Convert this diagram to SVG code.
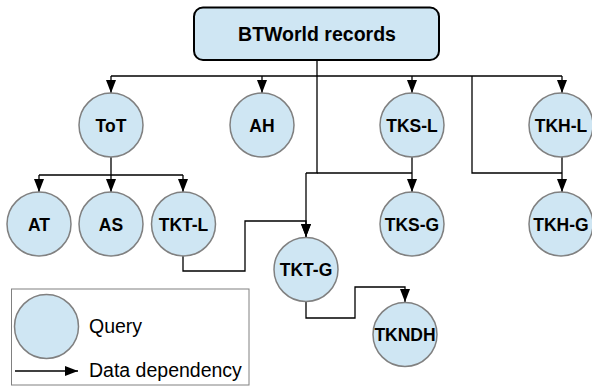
<svg xmlns="http://www.w3.org/2000/svg" width="592" height="386" viewBox="0 0 592 386">
<style>
.n circle{fill:#cfe6f3;stroke:#808080;stroke-width:1.5}
.lbl{font-family:"Liberation Sans",Arial,sans-serif;font-weight:bold;font-size:17.5px;text-anchor:middle;fill:#000}
.c path{fill:none;stroke:#000;stroke-width:1.3}
.lg{font-family:"Liberation Sans",Arial,sans-serif;font-size:19.5px;fill:#000}
</style>
<defs>
<marker id="ah" viewBox="0 0 13 10" refX="13" refY="5" markerWidth="13" markerHeight="10" markerUnits="userSpaceOnUse" orient="auto">
<path d="M0,0 L13,5 L0,10 z" fill="#000"/>
</marker>
</defs>
<rect width="592" height="386" fill="#fff"/>
<g class="c" id="connectors">
<path d="M317,60 V173 H306"/>
<path d="M111,76 H562"/>
<path d="M111,76 V93" marker-end="url(#ah)"/>
<path d="M262,76 V93" marker-end="url(#ah)"/>
<path d="M412,76 V93" marker-end="url(#ah)"/>
<path d="M562,76 V93" marker-end="url(#ah)"/>
<path d="M317,173 H412"/>
<path d="M306,173 V237" marker-end="url(#ah)"/>
<path d="M412,157 V192" marker-end="url(#ah)"/>
<path d="M472,76 V173 H562"/>
<path d="M562,157 V192" marker-end="url(#ah)"/>
<path d="M111,157 V175 M39,175 H183"/>
<path d="M39,175 V192" marker-end="url(#ah)"/>
<path d="M111,175 V192" marker-end="url(#ah)"/>
<path d="M183,175 V192" marker-end="url(#ah)"/>
<path d="M183,256 V271 H245 V221 H306 V237" marker-end="url(#ah)"/>
<path d="M306,302 V318 H355 V287 H405 V302" marker-end="url(#ah)"/>
</g>
<g id="btworld">
<rect x="194" y="7.5" width="245" height="52.5" rx="9" fill="#cfe6f3" stroke="#000" stroke-width="2"/>
<text x="317" y="40.5" text-anchor="middle" style="font-family:'Liberation Sans',Arial,sans-serif;font-weight:bold;font-size:19.5px">BTWorld records</text>
</g>
<g class="n" id="tot"><circle cx="111" cy="125" r="32"/><text class="lbl" x="111" y="131.5">ToT</text></g>
<g class="n" id="ah-node"><circle cx="262" cy="125" r="32"/><text class="lbl" x="262" y="131.5">AH</text></g>
<g class="n" id="tks-l"><circle cx="412" cy="125" r="32"/><text class="lbl" x="412" y="131.5">TKS-L</text></g>
<g class="n" id="tkh-l"><circle cx="561" cy="125" r="32"/><text class="lbl" x="561" y="131.5">TKH-L</text></g>
<g class="n" id="at"><circle cx="39" cy="224" r="32"/><text class="lbl" x="39" y="230.5">AT</text></g>
<g class="n" id="as"><circle cx="111" cy="224" r="32"/><text class="lbl" x="111" y="230.5">AS</text></g>
<g class="n" id="tkt-l"><circle cx="183.5" cy="224" r="32"/><text class="lbl" x="183.5" y="230.5">TKT-L</text></g>
<g class="n" id="tks-g"><circle cx="412" cy="224" r="32"/><text class="lbl" x="412" y="230.5">TKS-G</text></g>
<g class="n" id="tkh-g"><circle cx="561" cy="224" r="32"/><text class="lbl" x="561" y="230.5">TKH-G</text></g>
<g class="n" id="tkt-g"><circle cx="306" cy="269.5" r="32"/><text class="lbl" x="306" y="276">TKT-G</text></g>
<g class="n" id="tkndh"><circle cx="405" cy="334.5" r="32"/><text class="lbl" x="405" y="341">TKNDH</text></g>
<g id="legend">
<rect x="11.5" y="289" width="237.5" height="96" fill="#fff" stroke="#808080" stroke-width="1"/>
<circle cx="46.5" cy="326.5" r="32" fill="#cfe6f3" stroke="#808080" stroke-width="1.5"/>
<text class="lg" x="89" y="333">Query</text>
<path d="M15,371 H78" stroke="#000" stroke-width="1.3" fill="none" marker-end="url(#ah)"/>
<text class="lg" x="89" y="377">Data dependency</text>
</g>
</svg>
